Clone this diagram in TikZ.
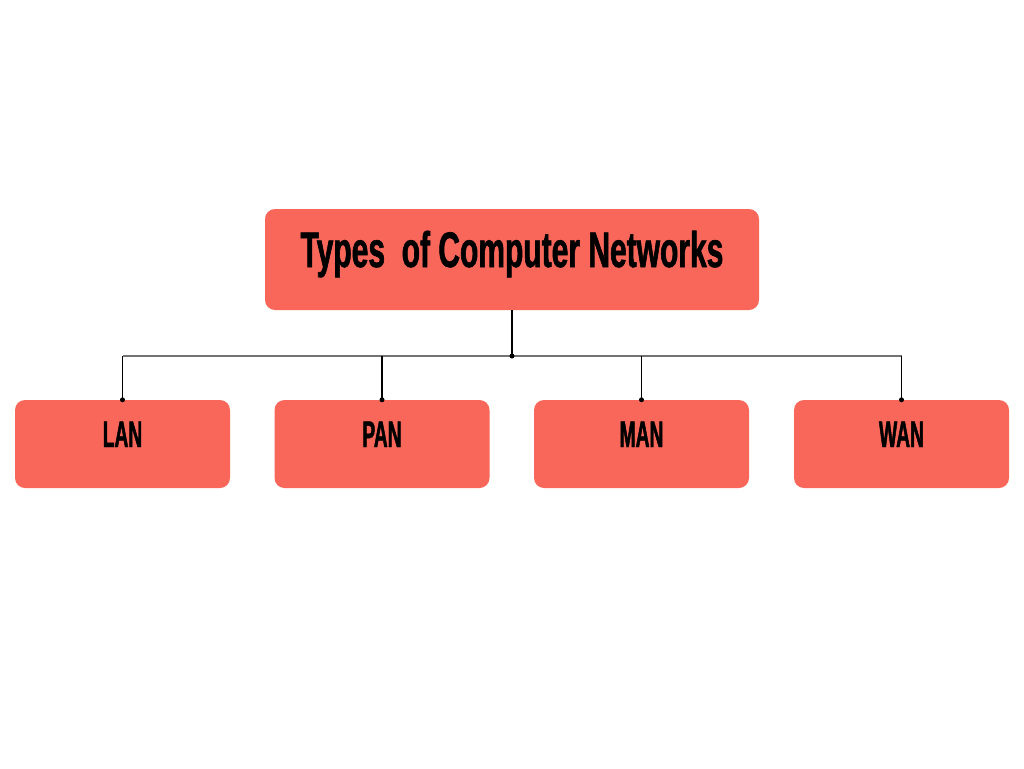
\documentclass[tikz,border=0pt]{standalone}
\usepackage{fontspec}
\newfontfamily\condfont[FakeStretch=0.6, FakeBold=1.2]{Liberation Sans}
\newfontfamily\narrowfont[FakeStretch=0.52, FakeBold=1.2]{Liberation Sans}
\definecolor{salmon}{RGB}{249,103,91}
\tikzset{
    netbox/.style={fill=salmon, rounded corners=10pt, inner xsep=0pt, inner ysep=0pt},
    leafbox/.style={netbox, minimum width=215pt, text height=47pt, text depth=41pt,
              font=\narrowfont\bfseries\fontsize{37}{40}\selectfont},
    link/.style={line width=1.5pt, black},
    bus/.style={line width=1.8pt, black!55},
    dot/.style={circle, fill=black, inner sep=0pt, minimum size=5pt}
}
\begin{document}
\begin{tikzpicture}[x=1pt, y=-1pt]
        % Canvas
        \useasboundingbox (0, 0) rectangle (1024, 768);
    
        % Root box
        \node[netbox, minimum width=494pt, text height=58pt, text depth=43pt,
              font=\condfont\bfseries\fontsize{50}{54}\selectfont] (types) at (512, 259.5) {Types\ \ of Computer Networks};
    
        % Network boxes
        \node[leafbox] (lan) at (122.5, 444) {LAN};
        \node[leafbox] (pan) at (382, 444) {PAN};
        \node[leafbox] (man) at (641.5, 444) {MAN};
        \node[leafbox] (wan) at (901.5, 444) {WAN};
    
        % Connectors
        \coordinate (hub) at (512, 356);
        \draw[bus] (lan.north |- hub) -- (wan.north |- hub);
        \draw[link] (types.south) -- (hub);
        \node[dot] (hubdot) at (hub) {};
        \foreach \net in {lan, pan, man, wan} {
            \draw[link] (\net.north |- hub) -- (\net.north);
            \node[dot] at (\net.north) {};
        }
    
    \end{tikzpicture}
\end{document}
